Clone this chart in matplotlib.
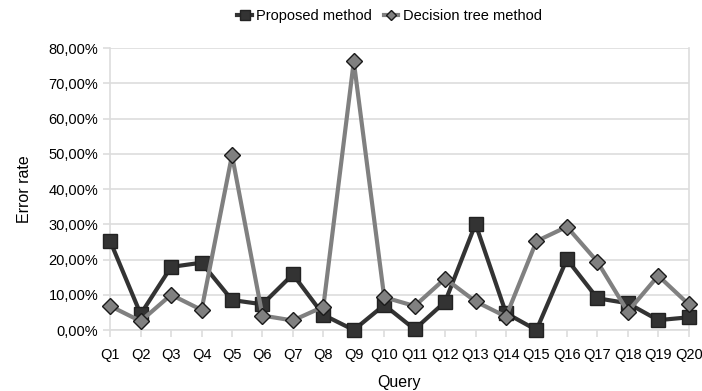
import matplotlib.pyplot as plt
from matplotlib.ticker import FuncFormatter

plt.rcParams['font.family'] = ['Liberation Sans', 'DejaVu Sans']

queries = ['Q%d' % i for i in range(1, 21)]
proposed = [25.2, 4.5, 17.9, 19.1, 8.5, 7.3, 15.8, 4.3, 0.0, 7.1,
            0.2, 8.0, 30.1, 4.8, 0.0, 20.1, 9.0, 7.6, 2.8, 3.6]
decision_tree = [6.8, 2.5, 10.0, 5.7, 49.6, 4.1, 2.7, 6.6, 76.2, 9.3,
                 6.8, 14.6, 8.1, 3.8, 25.2, 29.3, 19.4, 5.2, 15.4, 7.3]

fig = plt.figure(figsize=(7.02, 3.91), dpi=100)
ax = fig.add_axes([0.157, 0.156, 0.824, 0.721])

x = range(len(queries))
ax.plot(x, proposed, color='#333333', lw=3, marker='s', ms=10,
        mfc='#333333', mec='#222222', mew=1, label='Proposed method', clip_on=False, zorder=3)
ax.plot(x, decision_tree, color='#808080', lw=3, marker='D', ms=8,
        mfc='#808080', mec='#1a1a1a', mew=1, label='Decision tree method', clip_on=False, zorder=4)

ax.set_xlim(0, len(queries) - 1)
ax.set_ylim(0, 80)
ax.set_yticks(range(0, 81, 10))
ax.yaxis.set_major_formatter(FuncFormatter(lambda v, p: ('%.2f%%' % v).replace('.', ',')))
ax.set_xticks(list(x))
ax.set_xticklabels(queries)
ax.grid(axis='y', color='#dddddd', lw=1.2)
ax.set_axisbelow(True)
ax.spines['top'].set_visible(False)
for s in ['left', 'right', 'bottom']:
    ax.spines[s].set_color('#dddddd')
    ax.spines[s].set_linewidth(1.2)
ax.tick_params(axis='both', colors='#dddddd', labelcolor='black', labelsize=10.5,
               length=5, width=1.2)
ax.tick_params(axis='x', pad=8)
ax.set_xlabel('Query', fontsize=11.5, labelpad=9)
ax.set_ylabel('Error rate', fontsize=11.5, labelpad=12)

fig.legend(loc='upper center', bbox_to_anchor=(0.555, 1.01), ncol=2, frameon=False,
           fontsize=10.5, handlelength=1.0, handletextpad=0.3, columnspacing=0.8,
           markerscale=0.7)

fig.savefig('out.png')
